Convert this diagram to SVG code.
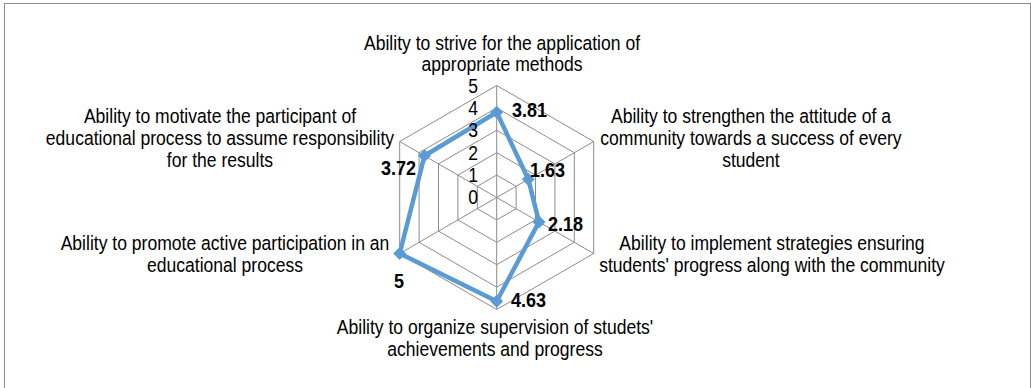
<svg xmlns="http://www.w3.org/2000/svg" width="1031" height="388" viewBox="0 0 1031 388">
  <style>
    .lbl { font-family: "Liberation Sans", Arial, sans-serif; font-size: 19.5px; fill: #000; text-anchor: middle; }
    .tick { font-family: "Liberation Sans", Arial, sans-serif; font-size: 19.5px; fill: #000; text-anchor: end; }
    .val { font-family: "Liberation Sans", Arial, sans-serif; font-size: 20px; font-weight: bold; fill: #000; }
    .grid { fill: none; stroke: #8c8c8c; stroke-width: 1; }
    .series { fill: none; stroke: #5B9BD5; stroke-width: 4.5; stroke-linejoin: round; }
    .mk { fill: #5B9BD5; }
  </style>
  <defs>
    <path id="diamond" d="M0,-6.5 L6.5,0 L0,6.5 L-6.5,0 Z"/>
  </defs>
  <rect x="4.5" y="3.5" width="1026" height="400" fill="#fff" stroke="#8c8c8c" stroke-width="1"/>

  <g id="grid">
    <polygon class="grid" points="496.7,175.1 516.1,186.3 516.1,208.7 496.7,219.9 477.3,208.7 477.3,186.3"/>
    <polygon class="grid" points="496.7,152.7 535.5,175.1 535.5,219.9 496.7,242.3 457.9,219.9 457.9,175.1"/>
    <polygon class="grid" points="496.7,130.3 554.9,163.9 554.9,231.1 496.7,264.7 438.5,231.1 438.5,163.9"/>
    <polygon class="grid" points="496.7,107.9 574.3,152.7 574.3,242.3 496.7,287.1 419.1,242.3 419.1,152.7"/>
    <polygon class="grid" points="496.7,85.5 593.7,141.5 593.7,253.5 496.7,309.5 399.7,253.5 399.7,141.5"/>
    <path class="grid" d="M496.7,197.5 L496.7,85.5 M496.7,197.5 L593.7,141.5 M496.7,197.5 L593.7,253.5 M496.7,197.5 L496.7,309.5 M496.7,197.5 L399.7,253.5 M496.7,197.5 L399.7,141.5"/>
  </g>

  <g id="connectors">
    <polygon class="series" points="496.7,112.2 528.3,179.3 539,221.9 496.7,301.2 399.7,253.5 424.5,155.8"/>
  </g>

  <g id="markers">
    <use href="#diamond" class="mk" x="496.7" y="112.2"/>
    <use href="#diamond" class="mk" x="528.3" y="179.3"/>
    <use href="#diamond" class="mk" x="539" y="221.9"/>
    <use href="#diamond" class="mk" x="496.7" y="301.2"/>
    <use href="#diamond" class="mk" x="399.7" y="253.5"/>
    <use href="#diamond" class="mk" x="424.5" y="155.8"/>
  </g>

  <g transform="scale(0.9 1)">
    <g id="ticks">
      <text class="tick" x="531.1" y="93">5</text>
      <text class="tick" x="531.1" y="115">4</text>
      <text class="tick" x="531.1" y="137.3">3</text>
      <text class="tick" x="531.1" y="159.7">2</text>
      <text class="tick" x="531.1" y="182.1">1</text>
      <text class="tick" x="531.1" y="204.5">0</text>
    </g>

    <g id="values">
      <text class="val" x="568.9" y="117.5">3.81</text>
      <text class="val" x="588.9" y="177.5">1.63</text>
      <text class="val" x="608.9" y="231.5">2.18</text>
      <text class="val" x="567.8" y="307.5">4.63</text>
      <text class="val" x="437.8" y="288">5</text>
      <text class="val" x="462.2" y="175.5" text-anchor="end">3.72</text>
    </g>

    <g id="node-top">
      <text class="lbl" x="557.8" y="50">Ability to strive for the application of</text>
      <text class="lbl" x="557.8" y="71.5">appropriate methods</text>
    </g>
    <g id="node-upper-right">
      <text class="lbl" x="834.4" y="123">Ability to strengthen the attitude of a</text>
      <text class="lbl" x="834.4" y="145">community towards a success of every</text>
      <text class="lbl" x="834.4" y="167">student</text>
    </g>
    <g id="node-lower-right">
      <text class="lbl" x="857.8" y="250">Ability to implement strategies ensuring</text>
      <text class="lbl" x="857.8" y="272">students' progress along with the community</text>
    </g>
    <g id="node-bottom">
      <text class="lbl" x="550" y="334">Ability to organize supervision of studets'</text>
      <text class="lbl" x="550" y="356">achievements and progress</text>
    </g>
    <g id="node-lower-left">
      <text class="lbl" x="250" y="250">Ability to promote active participation in an</text>
      <text class="lbl" x="250" y="272">educational process</text>
    </g>
    <g id="node-upper-left">
      <text class="lbl" x="244.4" y="123">Ability to motivate the participant of</text>
      <text class="lbl" x="244.4" y="145">educational process to assume responsibility</text>
      <text class="lbl" x="244.4" y="167">for the results</text>
    </g>
  </g>
</svg>
